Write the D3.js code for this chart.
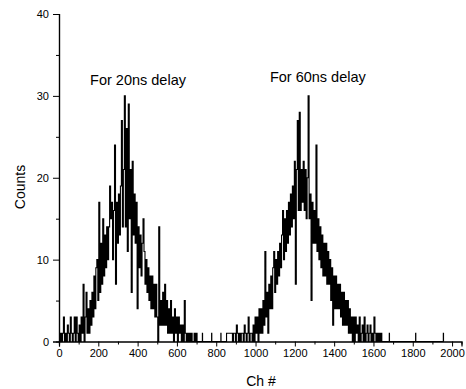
<!DOCTYPE html>
<html>
<head>
<meta charset="utf-8">
<script src="https://cdn.jsdelivr.net/npm/d3@7"></script>
<style>
  html, body { margin: 0; padding: 0; background: #fff; }
  svg { display: block; font-family: "Liberation Sans", Arial, sans-serif; }
</style>
</head>
<body>
<svg id="chart" width="466" height="389"></svg>
<script>
// ---- data ----
const binWidth = 5;                 // channels between successive samples
const peak1Start = 5;               // first channel of the 20 ns peak
const peak1Counts = [
  0,1,0,1,3,0,1,0,2,1,
  0,3,1,0,1,3,0,3,1,0,
  2,0,3,1,7,0,3,6,1,4,
  1,5,2,6,3,8,4,9,10,5,
  17,6,12,7,15,8,13,9,14,10,
  14,19,15,17,10,16,24,7,17,12,
  18,13,19,27,14,21,30,14,26,11,
  29,15,21,6,22,13,18,12,17,4,
  14,9,13,8,12,15,11,7,10,6,
  9,5,8,4,8,4,7,3,7,3,
  0,14,2,5,2,6,2,7,2,5,
  1,4,1,5,1,3,0,4,1,3,
  0,3,1,2,0,2,0,5,1,0,
  1,0,1,0,1,0,0,1,0,1,
  0,0
];
const peak2Start = 880;             // first channel of the 60 ns peak
const peak2Counts = [
  1,0,1,1,0,2,1,0,1,0,
  1,1,0,2,1,0,1,3,0,1,
  1,0,2,0,3,1,3,0,4,1,
  4,1,5,2,11,3,6,1,7,4,
  8,4,9,11,6,10,7,11,8,12,
  9,13,16,10,15,11,16,12,17,13,
  18,14,19,15,22,7,21,27,16,28,
  16,21,17,22,16,21,15,20,30,15,
  18,5,17,12,16,12,24,11,15,10,
  14,9,13,8,12,8,12,7,11,7,
  10,5,9,2,8,4,8,4,7,4,
  7,3,6,2,6,2,5,2,5,1,
  4,1,3,0,3,0,3,1,2,0,
  3,0,1,2,0,3,0,1,2,0,
  1,2,0,1,0,3,1,0,1,0,
  1,0,1,0,0
];
// isolated single counts outside the peaks
const singleChannels = [730, 777, 824, 1681, 1815, 1956];
const singleCounts   = [1, 1, 1, 1, 1, 1];

const xMajorTicks = [0,200,400,600,800,1000,1200,1400,1600,1800,2000];
const xMinorTicks = [100,300,500,700,900,1100,1300,1500,1700,1900];
const yMajorTicks = [0,10,20,30,40];
const yMinorTicks = [5,15,25,35];
const annotations = [
  { text: "For 20ns delay", ch: 158,  count: 31.3 },
  { text: "For 60ns delay", ch: 1073, count: 31.7 }
];
const xTitle = "Ch #";
const yTitle = "Counts";

// ---- build the series ----
const points = [];
peak1Counts.forEach((c, i) => points.push([peak1Start + i * binWidth, c]));
singleChannels.forEach((ch, i) => {
  points.push([ch - 1, 0], [ch, singleCounts[i]], [ch + 1, 0]);
});
peak2Counts.forEach((c, i) => points.push([peak2Start + i * binWidth, c]));
points.sort((a, b) => a[0] - b[0]);

// ---- layout ----
const svg = d3.select("#chart");
const margin = { left: 59, top: 14, right: 4.5, bottom: 47.5 };
const W = 466, H = 389;
const x = d3.scaleLinear().domain([0, 2048]).range([margin.left, W - margin.right]);
const y = d3.scaleLinear().domain([0, 40]).range([H - margin.bottom, margin.top]);

// data line (histogram-style steps)
svg.append("path")
  .datum(points)
  .attr("fill", "none")
  .attr("stroke", "#000")
  .attr("stroke-width", 1.1)
  .attr("d", d3.line().curve(d3.curveStep).x(d => x(d[0])).y(d => y(d[1])));

// x axis
const gx = svg.append("g").attr("transform", `translate(0,${y(0)})`);
gx.call(d3.axisBottom(x).tickValues(xMajorTicks).tickSize(5).tickPadding(3).tickFormat(d3.format("d")));
gx.append("g").call(d3.axisBottom(x).tickValues(xMinorTicks).tickSize(3).tickFormat(""));
gx.selectAll(".domain").attr("stroke", "#000").attr("stroke-width", 1.2);
gx.selectAll("text").attr("font-size", 11).attr("fill", "#000").attr("font-family", "Liberation Sans, Arial, sans-serif");

// y axis
const gy = svg.append("g").attr("transform", `translate(${x(0)},0)`);
gy.call(d3.axisLeft(y).tickValues(yMajorTicks).tickSize(6).tickPadding(4).tickFormat(d3.format("d")));
gy.append("g").call(d3.axisLeft(y).tickValues(yMinorTicks).tickSize(3).tickFormat(""));
gy.selectAll(".domain").attr("stroke", "#000").attr("stroke-width", 1.2);
gy.selectAll("text").attr("font-size", 11).attr("fill", "#000").attr("font-family", "Liberation Sans, Arial, sans-serif");
svg.selectAll(".tick line").attr("stroke", "#000");

// titles
svg.append("text")
  .attr("x", 261).attr("y", 386)
  .attr("text-anchor", "middle")
  .attr("font-size", 14)
  .text(xTitle);
svg.append("text")
  .attr("transform", `translate(25,187) rotate(-90)`)
  .attr("text-anchor", "middle")
  .attr("font-size", 14)
  .text(yTitle);

// annotations
svg.selectAll(".ann").data(annotations).enter().append("text")
  .attr("class", "ann")
  .attr("x", d => x(d.ch))
  .attr("y", d => y(d.count))
  .attr("font-size", 14.5)
  .text(d => d.text);
</script>
</body>
</html>
